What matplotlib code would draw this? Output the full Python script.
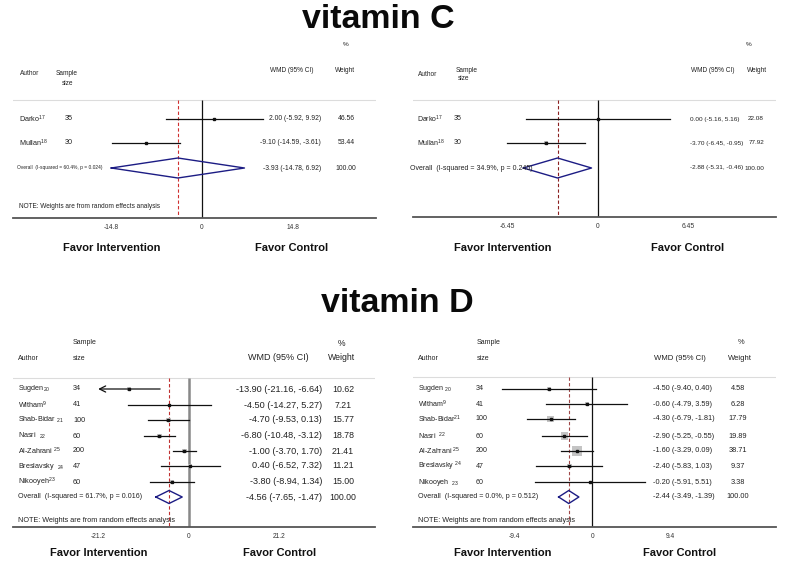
import matplotlib.pyplot as plt
import matplotlib.transforms as mtransforms

plt.rcParams['font.family'] = ['Liberation Sans', 'DejaVu Sans']
plt.rcParams['mathtext.fontset'] = 'custom'
plt.rcParams['mathtext.rm'] = 'Liberation Sans'

W, H = 787, 561

# ---- vitamin C, left panel
c1_authors = ['Darko$^{\\mathregular{17}}$', 'Mullan$^{\\mathregular{18}}$']
c1_n = [35, 30]
c1_wmd = [2.00, -9.10]
c1_lo = [-5.92, -14.59]
c1_hi = [9.92, -3.61]
c1_weight = [46.56, 53.44]
c1_overall = [-3.93, -14.78, 6.92]
c1_het = 'Overall  (I-squared = 60.4%, p = 0.024)'
c1_ticks = [-14.8, 0, 14.8]

# ---- vitamin C, right panel
c2_authors = ['Darko$^{\\mathregular{17}}$', 'Mullan$^{\\mathregular{18}}$']
c2_n = [35, 30]
c2_wmd = [0.00, -3.70]
c2_lo = [-5.16, -6.45]
c2_hi = [5.16, -0.95]
c2_weight = [22.08, 77.92]
c2_overall = [-2.88, -5.31, -0.46]
c2_het = 'Overall  (I-squared = 34.9%, p = 0.245)'
c2_ticks = [-6.45, 0, 6.45]

# ---- vitamin D, left panel
d1_authors = ['Sugden$_{\\mathregular{20}}$', 'Witham$^{\\mathregular{9}}$',
              'Shab-Bidar $_{\\mathregular{21}}$', 'Nasri  $_{\\mathregular{22}}$',
              'Al-Zahrani $^{\\mathregular{25}}$', 'Breslavsky  $_{\\mathregular{24}}$',
              'Nikooyeh$^{\\mathregular{23}}$']
d1_n = [34, 41, 100, 60, 200, 47, 60]
d1_wmd = [-13.90, -4.50, -4.70, -6.80, -1.00, 0.40, -3.80]
d1_lo = [-21.16, -14.27, -9.53, -10.48, -3.70, -6.52, -8.94]
d1_hi = [-6.64, 5.27, 0.13, -3.12, 1.70, 7.32, 1.34]
d1_weight = [10.62, 7.21, 15.77, 18.78, 21.41, 11.21, 15.00]
d1_overall = [-4.56, -7.65, -1.47]
d1_het = 'Overall  (I-squared = 61.7%, p = 0.016)'
d1_ticks = [-21.2, 0, 21.2]

# ---- vitamin D, right panel
d2_authors = ['Sugden $_{\\mathregular{20}}$', 'Witham$^{\\mathregular{9}}$',
              'Shab-Bidar$^{\\mathregular{21}}$', 'Nasri  $^{\\mathregular{22}}$',
              'Al-Zahrani $^{\\mathregular{25}}$', 'Breslavsky $^{\\mathregular{24}}$',
              'Nikooyeh  $_{\\mathregular{23}}$']
d2_n = [34, 41, 100, 60, 200, 47, 60]
d2_wmd = [-4.50, -0.60, -4.30, -2.90, -1.60, -2.40, -0.20]
d2_lo = [-9.40, -4.79, -6.79, -5.25, -3.29, -5.83, -5.91]
d2_hi = [0.40, 3.59, -1.81, -0.55, 0.09, 1.03, 5.51]
d2_weight = [4.58, 6.28, 17.79, 19.89, 38.71, 9.37, 3.38]
d2_overall = [-2.44, -3.49, -1.39]
d2_het = 'Overall  (I-squared = 0.0%, p = 0.512)'
d2_ticks = [-9.4, 0, 9.4]

note = 'NOTE: Weights are from random effects analysis'

fig = plt.figure(figsize=(W / 100, H / 100), dpi=100)


def txt(x, y, s, size, ha='left', weight='normal', color='#222222', va='center'):
    fig.text(x / W, 1 - y / H, s, fontsize=size, ha=ha, va=va,
             fontweight=weight, color=color)


def forest(authors, n, wmd, lo, hi, weight, overall, het, ticks, lay):
    L, R, T, B = lay['box']
    z, s = lay['zero'], lay['scale']
    ax = fig.add_axes([L / W, 1 - B / H, (R - L) / W, (B - T) / H])
    ax.set_xlim((L - z) / s, (R - z) / s)
    ax.set_ylim(B, T)
    for sp in ['top', 'left', 'right']:
        ax.spines[sp].set_visible(False)
    ax.spines['bottom'].set_color('#555555')
    ax.spines['bottom'].set_linewidth(1.3)
    ax.set_yticks([])
    ax.set_xticks(lay.get('tick_pos', ticks))
    ax.set_xticklabels(['%g' % t for t in ticks])
    ax.tick_params(axis='x', length=0, labelsize=4.8, labelcolor='#333333', pad=4.5)

    sep = lay['sep']
    ax.axhline(sep, color='#dcdcdc', lw=0.8)
    ax.vlines(0, sep, B, color=lay['zcol'], lw=lay['zlw'])
    ax.vlines(overall[0], sep, B, color=lay['dcol'], lw=0.8, linestyles=(0, (3, 2)))

    rows = lay['rows']
    for i, y in enumerate(rows):
        side = lay['box_k'] * weight[i] ** 0.5
        if side > 1.5:
            ax.scatter([wmd[i]], [y], marker='s', s=(side * 0.72) ** 2,
                       color='#c4c4c4', edgecolors='none', zorder=2)
        if i in lay.get('arrow', []):
            ax.annotate('', xy=(lo[i], y), xytext=(hi[i], y),
                        arrowprops=dict(arrowstyle='->', color='#111111', lw=0.9,
                                        shrinkA=0, shrinkB=0, mutation_scale=11),
                        zorder=3)
        else:
            ax.plot([lo[i], hi[i]], [y, y], color='#111111', lw=0.9, zorder=3)
        ax.plot([wmd[i]], [y], marker='s', ms=1.7, color='#111111', zorder=4)

    oy, h = lay['oy'], lay['dh']
    m, olo, ohi = overall
    ax.plot([olo, m, ohi, m, olo], [oy, oy - h, oy, oy + h, oy],
            color='#1c1c84', lw=1.0, zorder=5)

    # header
    for x, y, s_, fs, ha in lay['header']:
        txt(x, y, s_, fs, ha=ha)

    fs_lab, fs_wmd, fs_w = lay['fs']
    for i, y in enumerate(rows):
        txt(lay['lab_x'], y, authors[i], fs_lab)
        txt(lay['n_x'], y, str(n[i]), fs_lab)
        txt(lay['wmd_x'], y, '%.2f (%.2f, %.2f)' % (wmd[i], lo[i], hi[i]), fs_wmd,
            ha=lay['wmd_ha'])
        txt(lay['w_x'], y, '%.2f' % weight[i], fs_w, ha=lay['w_ha'])
    txt(lay['ov_x'], oy, het, lay['ov_fs'])
    txt(lay['wmd_x'], oy, '%.2f (%.2f, %.2f)' % (m, olo, ohi), fs_wmd, ha=lay['wmd_ha'])
    txt(lay['w_x'], oy, '100.00', fs_w, ha=lay['w_ha'])
    if lay.get('note_y'):
        txt(lay['lab_x'], lay['note_y'], note, lay['note_fs'])

    fy = lay['favor_y']
    txt(lay['favor'][0], fy, 'Favor Intervention', 8, ha='center', weight='bold', color='#111111')
    txt(lay['favor'][1], fy, 'Favor Control', 8, ha='center', weight='bold', color='#111111')
    return ax


lay_c1 = dict(box=(13, 376, 35, 218), zero=202, scale=6.14, sep=100,
              rows=[119, 143], oy=168, dh=10, box_k=0.0,
              zcol='#111111', zlw=0.9, dcol='#d03030',
              header=[(346, 44, '%', 4.6, 'center'), (20, 74, 'Author', 4.7, 'left'),
                      (67, 74, 'Sample', 4.7, 'center'), (68, 84, 'size', 4.7, 'center'),
                      (292, 70, 'WMD (95% CI)', 4.7, 'center'),
                      (345, 70, 'Weight', 4.7, 'center')],
              fs=(5.2, 4.9, 4.9), lab_x=19, n_x=65, wmd_x=321, wmd_ha='right',
              w_x=346, w_ha='center', ov_x=17, ov_fs=3.5, note_y=206, note_fs=4.7,
              favor_y=248, favor=(112, 292))

lay_c2 = dict(box=(413, 776, 35, 217), zero=598, scale=14.05, sep=100,
              rows=[119, 143], oy=168, dh=10, box_k=0.45,
              zcol='#111111', zlw=0.9, dcol='#8b2020',
              header=[(749, 44, '%', 4.6, 'center'), (418, 75, 'Author', 4.7, 'left'),
                      (456, 71, 'Sample', 4.7, 'left'), (458, 79, 'size', 4.7, 'left'),
                      (713, 70, 'WMD (95% CI)', 4.7, 'center'),
                      (757, 70, 'Weight', 4.7, 'center')],
              fs=(5.0, 4.6, 4.6), lab_x=417, n_x=454, wmd_x=690, wmd_ha='left',
              w_x=764, w_ha='right', ov_x=410, ov_fs=5.0, note_y=None,
              favor_y=248, favor=(503, 688))

lay_d1 = dict(box=(13, 375, 335, 527), zero=188.5, scale=4.27, sep=378,
              rows=[389, 405, 420, 436, 451, 466, 482], oy=497, dh=6.5, box_k=1.08,
              zcol='#888888', zlw=1.8, dcol='#c03030', arrow=[0],
              header=[(73, 343, 'Sample', 5.0, 'left'), (342, 343, '%', 6.2, 'center'),
                      (18, 358, 'Author', 5.0, 'left'), (73, 358, 'size', 5.0, 'left'),
                      (278, 358, 'WMD (95% CI)', 6.5, 'center'),
                      (342, 358, 'Weight', 6.3, 'center')],
              fs=(5.2, 6.6, 6.3), lab_x=18, n_x=73, wmd_x=322, wmd_ha='right',
              w_x=343, w_ha='center', ov_x=18, ov_fs=5.1, note_y=521, note_fs=5.2,
              favor_y=553, favor=(99, 280))

# tick labels in the original sit inside the data scale of this panel
lay_d2 = dict(box=(413, 776, 335, 527), zero=592.3, scale=9.65, sep=377,
              rows=[389, 404, 419, 436, 451, 466, 482], oy=497, dh=6.5, box_k=1.6,
              zcol='#111111', zlw=0.9, dcol='#a04848', tick_pos=[-8.1, 0, 8.1],
              header=[(477, 343, 'Sample', 5.0, 'left'), (741, 343, '%', 5.4, 'center'),
                      (418, 358, 'Author', 5.0, 'left'), (477, 358, 'size', 5.0, 'left'),
                      (680, 358, 'WMD (95% CI)', 5.6, 'center'),
                      (740, 358, 'Weight', 5.5, 'center')],
              fs=(5.1, 5.3, 5.3), lab_x=418, n_x=476, wmd_x=653, wmd_ha='left',
              w_x=738, w_ha='center', ov_x=418, ov_fs=5.1, note_y=521, note_fs=5.2,
              favor_y=553, favor=(503, 680))

forest(c1_authors, c1_n, c1_wmd, c1_lo, c1_hi, c1_weight, c1_overall, c1_het, c1_ticks, lay_c1)
forest(c2_authors, c2_n, c2_wmd, c2_lo, c2_hi, c2_weight, c2_overall, c2_het, c2_ticks, lay_c2)
forest(d1_authors, d1_n, d1_wmd, d1_lo, d1_hi, d1_weight, d1_overall, d1_het, d1_ticks, lay_d1)
forest(d2_authors, d2_n, d2_wmd, d2_lo, d2_hi, d2_weight, d2_overall, d2_het, d2_ticks, lay_d2)

txt(378, 28, 'vitamin C', 24.5, ha='center', weight='bold', color='#0a0a0a', va='baseline')
txt(397, 312, 'vitamin D', 24.5, ha='center', weight='bold', color='#0a0a0a', va='baseline')

fig.savefig('out.png', dpi=100)
